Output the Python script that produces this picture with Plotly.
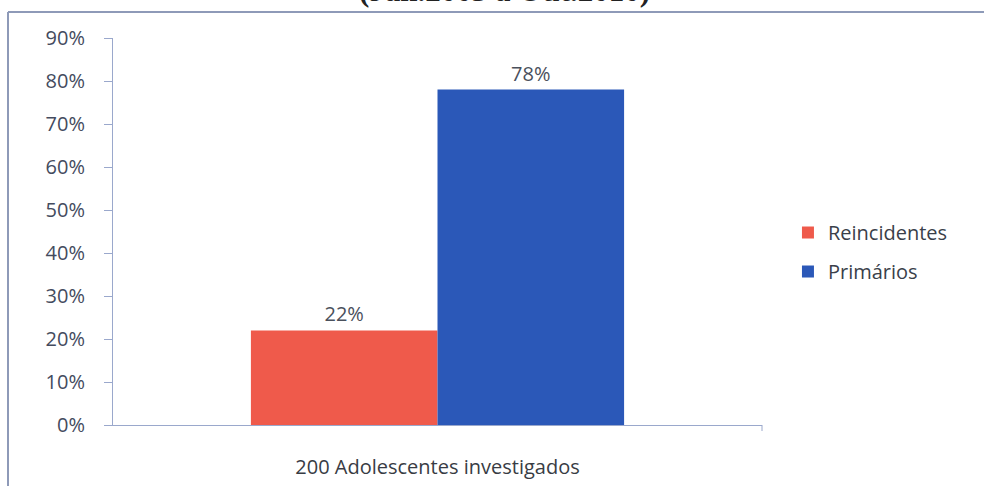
import plotly.graph_objects as go

categories = ["200 Adolescentes investigados"]
series_names = ["Reincidentes", "Primários"]
reincidentes = [0.22]
primarios = [0.78]
y_ticks = [0, 0.1, 0.2, 0.3, 0.4, 0.5, 0.6, 0.7, 0.8, 0.9]
y_tick_labels = ["0%", "10%", "20%", "30%", "40%", "50%", "60%", "70%", "80%", "90%"]
title_text = "(Jan.2005 a Out.2010)"

colors = ["#ef5a4b", "#2b58b8"]
font_family = "'Open Sans', Lato, sans-serif"

fig = go.Figure()
for name, vals, col in zip(series_names, [reincidentes, primarios], colors):
    fig.add_trace(go.Bar(
        x=categories, y=vals, name=name, legendgroup=name,
        marker=dict(color=col, line=dict(width=0)),
        texttemplate="%{y:.0%}", textposition="outside",
        textfont=dict(size=20, color="#4a505c", family=font_family),
        cliponaxis=False,
    ))

W, H = 984, 486
L, R, T, B = 113, 222, 38, 61
fig.update_layout(
    width=W, height=H,
    margin=dict(l=L, r=R, t=T, b=B, autoexpand=False),
    paper_bgcolor="white", plot_bgcolor="white",
    barmode="group", bargap=0.425, bargroupgap=0,
    font=dict(family=font_family),
    showlegend=True,
    legend=dict(x=1.04, y=0.447, xanchor="left", yanchor="middle",
                font=dict(size=20, color="#3a3f4a", family=font_family),
                tracegroupgap=10, itemwidth=30, bgcolor="rgba(0,0,0,0)"),
    xaxis=dict(showgrid=False, showline=True, linecolor="#9aa8cc", linewidth=1,
               ticks="", tickfont=dict(size=20, color="#383c44", family=font_family),
               ticklabelstandoff=24, zeroline=False, automargin=False),
    yaxis=dict(range=[0, 0.9], tickvals=y_ticks, ticktext=y_tick_labels,
               showgrid=False, zeroline=False, showline=True, linecolor="#9aa8cc",
               linewidth=1, ticks="outside", ticklen=8, tickcolor="#9aa8cc",
               tickfont=dict(size=20, color="#444b5e", family=font_family),
               ticklabelstandoff=15, automargin=False),
)

pw = W - L - R
ph = H - T - B
def px(x):
    return (x - L) / pw
def py(y):
    return (H - B - y) / ph

# outer frame (left and top)
fig.add_shape(type="line", xref="paper", yref="paper",
              x0=px(8), x1=px(W + 5), y0=py(12), y1=py(12),
              line=dict(color="#8e9ab8", width=2))
fig.add_shape(type="line", xref="paper", yref="paper",
              x0=px(8), x1=px(8), y0=py(12), y1=py(H + 5),
              line=dict(color="#8e9ab8", width=2))
# tick at end of x axis
fig.add_shape(type="line", xref="paper", yref="paper",
              x0=1, x1=1, y0=0, y1=py(431),
              line=dict(color="#9aa8cc", width=1))

# title, cut off at the top edge as in the reference
fig.add_annotation(text="<b>" + title_text + "</b>", xref="paper", yref="paper",
                   x=px(504), y=py(10), xanchor="center", yanchor="bottom",
                   showarrow=False,
                   font=dict(family="'Liberation Serif', serif", size=31, color="#222222"))

fig.write_html("out.html", config={"displayModeBar": False},
               post_script="document.body.style.margin='0px';")
